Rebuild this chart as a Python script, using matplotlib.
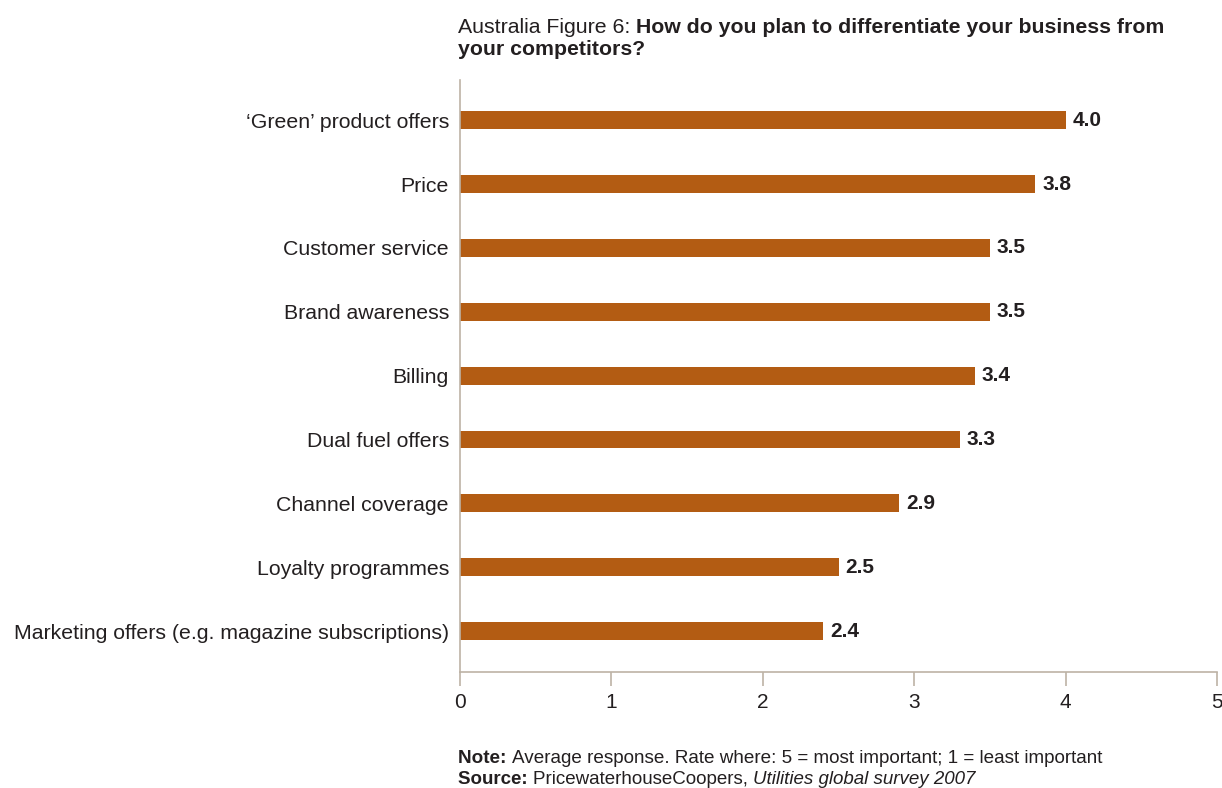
import numpy as np
import matplotlib
matplotlib.use("Agg")
from matplotlib import pyplot as plt
from matplotlib.text import Annotation

# data
categories = ["\u2018Green\u2019 product offers", "Price", "Customer service", "Brand awareness",
              "Billing", "Dual fuel offers", "Channel coverage", "Loyalty programmes",
              "Marketing offers (e.g. magazine subscriptions)"]
values = [4.0, 3.8, 3.5, 3.5, 3.4, 3.3, 2.9, 2.5, 2.4]
xticks = [0, 1, 2, 3, 4, 5]

bar_color = "#B35C13"
axis_color = "#BDB3A6"
text_color = "#231F20"

plt.rcParams["font.family"] = ["Liberation Sans", "DejaVu Sans"]

fig = plt.figure(figsize=(12.22, 7.88), dpi=100)
ax = fig.add_axes([460 / 1222, 1 - 672 / 788, 757 / 1222, 592 / 788])

y = np.arange(len(categories))
ax.barh(y, values, height=0.28, color=bar_color)
for yi, v in zip(y, values):
    ax.text(v + 0.045, yi, f"{v:.1f}", va="center", ha="left",
            fontsize=15, fontweight="bold", color=text_color)

ax.set_xlim(0, 5)
ax.set_ylim(len(categories) - 1 + 0.64, -0.63)
ax.set_xticks(xticks)
ax.set_xticklabels([str(t) for t in xticks], fontsize=15, color=text_color)
ax.set_yticks(y)
ax.set_yticklabels(categories, fontsize=15.3, color=text_color)
ax.tick_params(axis="y", length=0, pad=8)
ax.tick_params(axis="x", length=10, width=1.2, color=axis_color, pad=5)

for s in ["top", "right"]:
    ax.spines[s].set_visible(False)
for s in ["left", "bottom"]:
    ax.spines[s].set_color(axis_color)
    ax.spines[s].set_linewidth(1.2)


# text made of pieces in different weights, each placed after the one before
def chain(x, y, parts, size):
    prev = fig.text(x / 1222, 1 - y / 788, parts[0][0], fontsize=size, fontweight=parts[0][1],
                    style=parts[0][2], color=text_color, va="baseline", ha="left")
    for txt, weight, style in parts[1:]:
        prev = fig.add_artist(Annotation(
            txt, xy=(1, 0), xycoords=prev, va="bottom", ha="left",
            fontsize=size, fontweight=weight, style=style, color=text_color))


chain(458, 33, [("Australia Figure 6: ", "normal", "normal"),
                ("How do you plan to differentiate your business from", "bold", "normal")], 15.3)
chain(458, 55, [("your competitors?", "bold", "normal")], 15.3)
chain(458, 763, [("Note: ", "bold", "normal"),
                 ("Average response. Rate where: 5 = most important; 1 = least important",
                  "normal", "normal")], 13.6)
chain(458, 784, [("Source: ", "bold", "normal"),
                 ("PricewaterhouseCoopers, ", "normal", "normal"),
                 ("Utilities global survey 2007", "normal", "italic")], 13.5)

fig.savefig("out.png", dpi=100)
